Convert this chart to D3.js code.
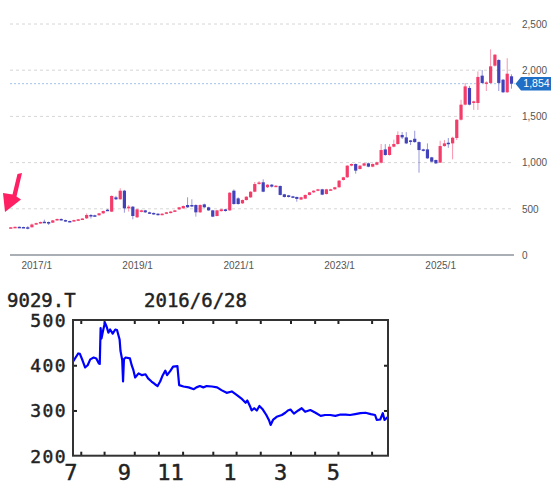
<!DOCTYPE html>
<html>
<head>
<meta charset="utf-8">
<script src="https://cdn.jsdelivr.net/npm/d3@7"></script>
<style>
  html, body { margin: 0; padding: 0; background: #fff; }
  svg { display: block; }
</style>
</head>
<body>
<div id="chart"></div>
<script>
// ---- monthly candles, 2016/7 .. 2026/6  [open, high, low, close]
const START_MONTH = "2016-07";
const ohlc = [
  // 2016
  [293, 302, 290, 300], [300, 307, 298, 305], [305, 308, 300, 302], [303, 306, 298, 300], [300, 312, 278, 298], [300, 340, 298, 330],
  // 2017
  [330, 350, 326, 345], [345, 362, 340, 357], [360, 383, 348, 352], [357, 362, 325, 340], [350, 378, 346, 375], [375, 394, 370, 390],
  [390, 396, 374, 378], [378, 382, 360, 365], [368, 372, 360, 364], [365, 382, 362, 378], [372, 390, 368, 386], [385, 398, 380, 395],
  // 2018
  [397, 450, 390, 433], [433, 442, 395, 428], [430, 436, 415, 420], [430, 455, 425, 451], [451, 480, 445, 476], [490, 498, 476, 484],
  [469, 645, 465, 639], [624, 640, 595, 603], [603, 722, 598, 696], [696, 705, 458, 505], [505, 540, 470, 523], [523, 530, 386, 422],
  // 2019
  [408, 500, 400, 494], [470, 490, 462, 483], [483, 488, 455, 462], [462, 468, 445, 450], [455, 460, 436, 440], [447, 452, 428, 433],
  [436, 452, 430, 447], [447, 466, 442, 462], [455, 475, 450, 470], [470, 488, 465, 483], [494, 520, 488, 516], [505, 535, 500, 530],
  // 2020
  [541, 624, 510, 516], [541, 603, 518, 525], [541, 548, 415, 462], [462, 548, 455, 541], [548, 556, 510, 516], [516, 522, 478, 483],
  [483, 488, 410, 415], [422, 488, 418, 483], [475, 500, 470, 494], [494, 500, 470, 476], [483, 680, 478, 674], [696, 710, 545, 552],
  // 2021
  [613, 625, 545, 552], [559, 600, 552, 595], [595, 636, 590, 631], [624, 690, 618, 685], [685, 790, 680, 768], [770, 800, 760, 785],
  [787, 819, 680, 685], [733, 766, 725, 761], [761, 768, 730, 740], [740, 756, 735, 750], [747, 752, 645, 650], [657, 662, 622, 628],
  // 2022
  [646, 650, 622, 628], [635, 640, 615, 620], [628, 632, 577, 607], [600, 630, 595, 625], [610, 655, 605, 650], [650, 682, 645, 678],
  [678, 700, 672, 696], [696, 716, 690, 711], [711, 716, 648, 653], [660, 716, 655, 711], [705, 716, 700, 711], [711, 738, 706, 733],
  // 2023
  [733, 810, 728, 805], [812, 846, 806, 841], [841, 972, 835, 967], [967, 990, 960, 985], [985, 990, 880, 913], [931, 972, 925, 967],
  [967, 997, 960, 992], [992, 1000, 950, 956], [956, 990, 950, 985], [977, 1010, 970, 1003], [999, 1201, 990, 1136], [1143, 1200, 1075, 1082],
  // 2024
  [1082, 1201, 1075, 1172], [1172, 1248, 1165, 1201], [1201, 1338, 1195, 1299], [1299, 1330, 1255, 1273], [1273, 1330, 1200, 1208], [1240, 1245, 1190, 1225],
  [1258, 1345, 1215, 1222], [1222, 1230, 891, 1136], [1143, 1150, 1120, 1130], [1143, 1208, 1040, 1046], [1057, 1062, 1005, 1010], [1028, 1032, 985, 992],
  // 2025
  [1000, 1237, 995, 1179], [1179, 1244, 1172, 1208], [1215, 1266, 1160, 1205], [1208, 1280, 1035, 1269], [1266, 1470, 1244, 1464], [1464, 1680, 1455, 1627],
  [1627, 1861, 1620, 1825], [1808, 1830, 1620, 1627], [1645, 1670, 1570, 1663], [1645, 1987, 1570, 1927], [1941, 2002, 1855, 1862], [1862, 1880, 1775, 1868],
  // 2026
  [1862, 2226, 1855, 2042], [2049, 2175, 2040, 2168], [2110, 2120, 1775, 1862], [1897, 1905, 1755, 1761], [1761, 2130, 1755, 1962], [1934, 1955, 1800, 1854]
];
const priceTicks = [0, 500, 1000, 1500, 2000, 2500];
const yearTicks = [2017, 2019, 2021, 2023, 2025];

// ---- inset: 9029.T daily, 2016/6/28 .. 2017/6/28
const insetTitle = "9029.T";
const insetDate = "2016/6/28";
const histDates = [
  "2016-06-28","2016-07-04","2016-07-06","2016-07-09","2016-07-12","2016-07-15","2016-07-18","2016-07-22","2016-07-25","2016-07-28","2016-07-29","2016-07-30","2016-07-31",
  "2016-08-02","2016-08-04","2016-08-06","2016-08-08","2016-08-10","2016-08-13","2016-08-16","2016-08-18","2016-08-21","2016-08-22","2016-08-24","2016-08-25","2016-08-26","2016-08-28",
  "2016-09-02","2016-09-04","2016-09-06","2016-09-08","2016-09-12","2016-09-16","2016-09-20","2016-09-23","2016-09-27",
  "2016-10-01","2016-10-04","2016-10-07","2016-10-10","2016-10-13","2016-10-15","2016-10-19","2016-10-22","2016-10-27","2016-10-29",
  "2016-11-03","2016-11-09","2016-11-15","2016-11-18","2016-11-22","2016-11-26","2016-11-30",
  "2016-12-06","2016-12-12","2016-12-17","2016-12-23","2016-12-29",
  "2017-01-04","2017-01-10","2017-01-14","2017-01-16","2017-01-19","2017-01-21","2017-01-24","2017-01-27","2017-01-30",
  "2017-02-03","2017-02-07","2017-02-10","2017-02-12","2017-02-15","2017-02-19","2017-02-25",
  "2017-03-01","2017-03-04","2017-03-07","2017-03-11","2017-03-16","2017-03-20","2017-03-24","2017-03-30",
  "2017-04-05","2017-04-11","2017-04-16","2017-04-22","2017-04-28",
  "2017-05-04","2017-05-10","2017-05-15","2017-05-21","2017-05-27",
  "2017-06-02","2017-06-08","2017-06-13","2017-06-15","2017-06-19","2017-06-22","2017-06-24","2017-06-28"
];
const histClose = [
  408, 426, 425, 411, 395, 400, 413, 417, 415, 404, 403, 482, 459,
  478, 494, 485, 472, 479, 470, 479, 478, 457, 432, 412, 364, 413, 417,
  415, 400, 389, 373, 382, 378, 380, 371, 364,
  358, 354, 364, 378, 388, 378, 388, 397, 398, 356,
  353, 351, 347, 351, 354, 351, 354,
  353, 351, 345, 339, 342,
  334, 325, 317, 322, 310, 300, 305, 300, 310,
  302, 290, 279, 268, 280, 286, 290,
  295, 300, 302, 293, 300, 305, 297, 301,
  295, 288, 290, 290, 288,
  291, 291, 290, 292, 294,
  295, 292, 290, 279, 280, 294, 279, 286
];
const insetTicks = ["2016-07-07","2016-08-03","2016-09-07","2016-10-05","2016-11-02","2016-12-07","2017-01-03","2017-01-31","2017-03-07","2017-04-04","2017-05-01","2017-06-09"];
const insetLabels = ["2016-07-01","2016-09-01","2016-11-01","2017-01-01","2017-03-01","2017-05-01"];
const insetY = [200, 300, 400, 500];

const UP = "#f43c6a", DOWN = "#4141b9";
const parse = d3.timeParse("%Y-%m-%d");

const svg = d3.select("#chart").append("svg")
  .attr("width", 557).attr("height", 492)
  .style("background", "#fff");

// ================= top: monthly candles =================
const start = d3.timeParse("%Y-%m")(START_MONTH);
const candles = ohlc.map((r, i) => ({
  date: d3.timeMonth.offset(start, i), o: r[0], h: r[1], l: r[2], c: r[3]
}));

const x = d3.scaleTime()
  .domain([candles[0].date, candles[candles.length - 1].date])
  .range([10.75, 511.5]);
const y = d3.scaleLinear().domain([0, 2500]).range([255, 24]);

const mainG = svg.append("g");

// grid
mainG.append("g").selectAll("line")
  .data(priceTicks.filter(d => d > 0))
  .join("line")
  .attr("x1", 10).attr("x2", 513)
  .attr("y1", d => y(d)).attr("y2", d => y(d))
  .attr("stroke", "#d6d6d6").attr("stroke-dasharray", "3,3");

// baseline
mainG.append("line")
  .attr("x1", 10).attr("x2", 514).attr("y1", y(0)).attr("y2", y(0))
  .attr("stroke", "#8e939c").attr("stroke-width", 1.5);

// last price line
const last = candles[candles.length - 1];
mainG.append("line")
  .attr("x1", 10).attr("x2", 515).attr("y1", y(last.c)).attr("y2", y(last.c))
  .attr("stroke", "#9fc3ea").attr("stroke-dasharray", "2,2");

// y axis labels (right)
mainG.append("g")
  .attr("transform", "translate(512,0)")
  .call(d3.axisRight(y).tickValues(priceTicks).tickSize(0).tickPadding(10).tickFormat(d3.format(",")))
  .call(g => g.select(".domain").remove())
  .call(g => g.selectAll("text").attr("fill", "#555")
    .style("font", "10px 'Liberation Sans', Arial, sans-serif"));

// x axis labels
mainG.append("g")
  .attr("transform", `translate(0,${y(0)})`)
  .call(d3.axisBottom(x).tickValues(yearTicks.map(yr => new Date(yr, 0, 1)))
    .tickSize(0).tickPadding(7).tickFormat(d => `${d.getFullYear()}/1`))
  .call(g => g.select(".domain").remove())
  .call(g => g.selectAll("text").attr("fill", "#555")
    .style("font", "10px 'Liberation Sans', Arial, sans-serif"));

// candles
const cg = mainG.append("g").selectAll("g").data(candles).join("g");
cg.append("line")
  .attr("x1", d => x(d.date)).attr("x2", d => x(d.date))
  .attr("y1", d => y(d.h)).attr("y2", d => y(d.l))
  .attr("stroke", d => d.c >= d.o ? UP : DOWN)
  .attr("stroke-opacity", 0.55).attr("stroke-width", 1);
cg.append("rect")
  .attr("x", d => x(d.date) - 1.6).attr("width", 3.2)
  .attr("y", d => y(Math.max(d.o, d.c)))
  .attr("height", d => Math.max(1.5, Math.abs(y(d.o) - y(d.c))))
  .attr("fill", d => d.c >= d.o ? UP : DOWN);

// last price badge
const ly = y(last.c);
mainG.append("path")
  .attr("d", `M515.5,${ly} L521,${ly - 6.7} L551,${ly - 6.7} L551,${ly + 6.7} L521,${ly + 6.7} Z`)
  .attr("fill", "#1f6fc6");
mainG.append("text")
  .attr("x", 536.5).attr("y", ly).attr("dy", "0.35em")
  .attr("text-anchor", "middle").attr("fill", "#fff")
  .style("font", "10.5px 'Liberation Sans', Arial, sans-serif")
  .text(d3.format(",")(last.c));

// pink pointer arrow
mainG.append("path")
  .attr("d", "M22,173 L17.5,174 L12.5,194.5 L3,193 L5,212 L21,199.5 L16.5,196.5 Z")
  .attr("fill", "#ff1f63");

// ================= bottom: inset line chart =================
const ix = d3.scaleTime().domain([parse("2016-06-28"), parse("2017-06-28")]).range([73, 388]);
const iy = d3.scaleLinear().domain([200, 500]).range([455.7, 320]);
const series = histDates.map((d, i) => ({ date: parse(d), v: histClose[i] }));

const insetG = svg.append("g");
const monoFont = "'DejaVu Sans Mono', 'Liberation Mono', monospace";
const ink = t => t.attr("fill", "#222").attr("stroke", "#222").attr("stroke-width", 0.45);

insetG.append("text").attr("x", 7).attr("y", 306.5)
  .style("font", `19px ${monoFont}`).call(ink).text(insetTitle);
insetG.append("text").attr("x", 144).attr("y", 306.5)
  .style("font", `19px ${monoFont}`).call(ink).text(insetDate);

// y labels
insetG.append("g").selectAll("text").data(insetY).join("text")
  .attr("x", 67).attr("y", d => iy(d)).attr("dy", "0.38em")
  .attr("text-anchor", "end")
  .style("font", `18px ${monoFont}`).style("letter-spacing", "1.4px")
  .call(ink)
  .text(d => d);

// x labels
insetG.append("g").selectAll("text").data(insetLabels.map(parse)).join("text")
  .attr("x", d => ix(d) + 2).attr("y", 480)
  .attr("text-anchor", "end")
  .style("font", `22px ${monoFont}`)
  .call(ink)
  .text(d => d.getMonth() + 1);

// inward tick marks
const tickDates = insetTicks.map(parse);
const tickStyle = g => {
  g.select(".domain").remove();
  g.selectAll("line").attr("stroke", "#222").attr("stroke-width", 2);
};
insetG.append("g").attr("transform", "translate(0,455.7)")
  .call(d3.axisBottom(ix).tickValues(tickDates).tickSize(-4).tickFormat("")).call(tickStyle);
insetG.append("g").attr("transform", "translate(0,320)")
  .call(d3.axisTop(ix).tickValues(tickDates).tickSize(-4).tickFormat("")).call(tickStyle);
insetG.append("g").attr("transform", "translate(73,0)")
  .call(d3.axisLeft(iy).tickValues([300, 400]).tickSize(-4).tickFormat("")).call(tickStyle);
insetG.append("g").attr("transform", "translate(388,0)")
  .call(d3.axisRight(iy).tickValues([300, 400]).tickSize(-4).tickFormat("")).call(tickStyle);

// line
insetG.append("path").datum(series)
  .attr("fill", "none").attr("stroke", "#0000ff").attr("stroke-width", 2.2)
  .attr("stroke-linejoin", "round")
  .attr("d", d3.line().x(d => ix(d.date)).y(d => iy(d.v)));

// frame
insetG.append("rect")
  .attr("x", 73).attr("y", 320).attr("width", 315).attr("height", 135.7)
  .attr("fill", "none").attr("stroke", "#333").attr("stroke-width", 2);
</script>
</body>
</html>
